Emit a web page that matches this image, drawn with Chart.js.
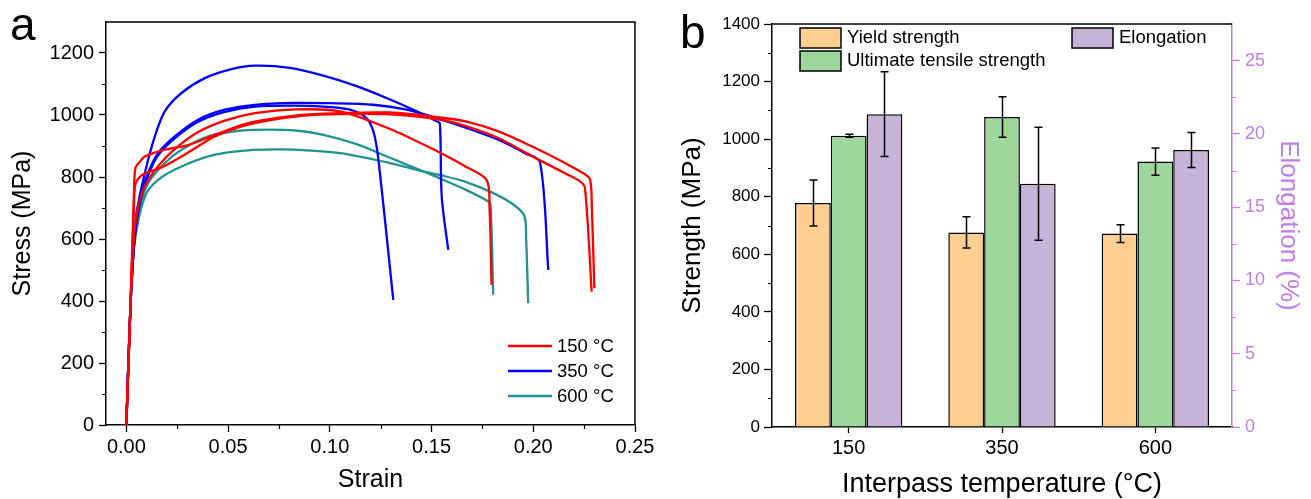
<!DOCTYPE html>
<html>
<head>
<meta charset="utf-8">
<script src="https://cdn.jsdelivr.net/npm/chart.js@4.4.1/dist/chart.umd.min.js"></script>
<style>
  html, body { margin: 0; padding: 0; background: #fff; }
  #wrap { position: relative; width: 1311px; height: 499px; overflow: hidden; }
  #cA { position: absolute; left: 0; top: 0; }
  #cB { position: absolute; left: 660px; top: 0; }
</style>
</head>
<body>
<div id="wrap">
  <canvas id="cA" width="660" height="499"></canvas>
  <canvas id="cB" width="651" height="499"></canvas>
</div>
<script>
// ---------------- Panel a: stress-strain curves ----------------
const strainTicks = [0, 0.05, 0.10, 0.15, 0.20, 0.25];
const stressTicks = [0, 200, 400, 600, 800, 1000, 1200];
const legendA = ['150 °C', '350 °C', '600 °C'];

// 150 °C
const red1Strain = [0, 0.002, 0.0035, 0.005, 0.0075, 0.0107, 0.0156, 0.0238, 0.0353, 0.0484, 0.0632, 0.0828, 0.105, 0.1296, 0.1491, 0.1664, 0.1771, 0.1785, 0.1795];
const red1Stress = [0, 380, 580, 680, 745, 790, 835, 890, 945, 982, 1006, 1018, 1012, 955, 895, 835, 790, 700, 452];
const red2Strain = [0, 0.002, 0.0038, 0.0045, 0.0075, 0.0107, 0.0189, 0.0271, 0.0353, 0.0435, 0.0599, 0.0828, 0.10, 0.1296, 0.154, 0.1664, 0.1828, 0.1992, 0.2156, 0.223, 0.2254, 0.2287];
const red2Stress = [0, 380, 720, 778, 805, 815, 836, 866, 899, 931, 969, 995, 1002, 1002, 985, 965, 926, 868, 812, 786, 765, 430];
const red3Strain = [0, 0.002, 0.0038, 0.0045, 0.007, 0.0091, 0.0189, 0.0304, 0.0435, 0.0599, 0.0828, 0.10, 0.1296, 0.154, 0.1664, 0.1828, 0.1992, 0.2156, 0.2246, 0.2279, 0.2288, 0.2300];
const red3Stress = [0, 380, 760, 830, 852, 866, 888, 903, 936, 974, 998, 1005, 1008, 992, 980, 947, 899, 845, 812, 792, 700, 441];
// 350 °C
const blue1Strain = [0, 0.002, 0.0035, 0.005, 0.0091, 0.014, 0.0189, 0.0271, 0.0386, 0.0517, 0.0632, 0.0804, 0.0968, 0.1132, 0.1296, 0.1427, 0.1525, 0.1541, 0.155, 0.1582];
const blue1Stress = [0, 380, 560, 683, 813, 931, 1012, 1071, 1119, 1148, 1159, 1152, 1127, 1093, 1050, 1012, 980, 972, 737, 565];
const blue2Strain = [0, 0.002, 0.004, 0.0066, 0.0107, 0.0156, 0.0238, 0.0353, 0.0484, 0.0632, 0.0828, 0.10, 0.1213, 0.1378, 0.154, 0.1664, 0.1828, 0.1959, 0.2033, 0.2074];
const blue2Stress = [0, 380, 600, 726, 813, 877, 931, 985, 1017, 1033, 1039, 1038, 1033, 1017, 987, 960, 920, 877, 848, 500];
const blue3Strain = [0, 0.002, 0.004, 0.0066, 0.0107, 0.0156, 0.0238, 0.0353, 0.0484, 0.0632, 0.0828, 0.0968, 0.1099, 0.118, 0.1215, 0.1238, 0.1312];
const blue3Stress = [0, 380, 595, 715, 805, 870, 925, 978, 1010, 1027, 1030, 1027, 1017, 990, 945, 860, 404];
// 600 °C
const teal1Strain = [0, 0.002, 0.004, 0.0066, 0.0107, 0.0189, 0.0271, 0.0402, 0.0566, 0.0704, 0.0828, 0.0968, 0.1132, 0.1296, 0.1459, 0.155, 0.1664, 0.1777, 0.179, 0.1803];
const teal1Stress = [0, 380, 590, 700, 780, 845, 888, 931, 950, 953, 950, 936, 906, 862, 818, 793, 760, 722, 712, 420];
const teal2Strain = [0, 0.002, 0.004, 0.0091, 0.0156, 0.0271, 0.0435, 0.0599, 0.0741, 0.0828, 0.105, 0.1296, 0.1459, 0.155, 0.1664, 0.1804, 0.19, 0.1956, 0.1965, 0.1975];
const teal2Stress = [0, 380, 585, 737, 791, 834, 872, 886, 889, 888, 877, 845, 818, 805, 785, 748, 712, 675, 600, 393];

// ---------------- Panel b: bar chart ----------------
const temperatures = ['150', '350', '600'];
const yieldStrength = [778, 676, 672];
const yieldErr = [80, 54, 31];
const tensileStrength = [1012, 1077, 922];
const tensileErr = [5, 70, 47];
const elongation = [21.35, 16.6, 18.9];
const elongationErr = [2.9, 3.85, 1.2];
const strengthTicks = [0, 200, 400, 600, 800, 1000, 1200, 1400];
const elongationTicks = [0, 5, 10, 15, 20, 25];
const legendB = ['Yield strength', 'Ultimate tensile strength', 'Elongation'];

const FONT = "'Liberation Sans', Arial, Helvetica, sans-serif";
const RED = '#ff0000', BLUE = '#0000ff', TEAL = '#21948e';
const ORANGE = '#ffcf91', GREEN = '#9ed79b', PURPLE = '#c6b3d8', AXIS_PURPLE = '#c07ee8';

function pts(xs, ys) { return xs.map((x, i) => ({ x: x, y: ys[i] })); }
function lineDs(xs, ys, color) {
  return { data: pts(xs, ys), borderColor: color, borderWidth: 2.3, pointRadius: 0, fill: false, tension: 0.3 };
}
const plain = v => String(v);

const framePluginA = {
  id: 'frameA',
  afterDraw(chart) {
    const { ctx, chartArea: a, scales } = chart;
    ctx.save();
    ctx.strokeStyle = '#000';
    ctx.lineWidth = 1.5;
    ctx.beginPath();
    ctx.moveTo(a.left, a.top); ctx.lineTo(a.right, a.top); ctx.lineTo(a.right, a.bottom);
    ctx.stroke();
    // minor ticks
    ctx.lineWidth = 1.2;
    ctx.beginPath();
    for (let v = 100; v < 1300; v += 200) {
      const y = Math.round(scales.y.getPixelForValue(v)) + 0.5;
      ctx.moveTo(a.left - 4, y); ctx.lineTo(a.left, y);
    }
    for (let v = 0.025; v < 0.25; v += 0.05) {
      const x = Math.round(scales.x.getPixelForValue(v)) + 0.5;
      ctx.moveTo(x, a.bottom); ctx.lineTo(x, a.bottom + 4);
    }
    ctx.stroke();
    // legend
    const colors = [RED, BLUE, TEAL];
    ctx.font = '18.5px ' + FONT;
    ctx.textBaseline = 'middle';
    ctx.fillStyle = '#000';
    const rows = [346, 371, 396];
    legendA.forEach((t, i) => {
      ctx.strokeStyle = colors[i];
      ctx.lineWidth = 2.6;
      ctx.beginPath(); ctx.moveTo(508, rows[i]); ctx.lineTo(552, rows[i]); ctx.stroke();
      ctx.fillText(t, 557, rows[i] + 1);
    });
    // panel letter
    ctx.font = '46px ' + FONT;
    ctx.textBaseline = 'alphabetic';
    ctx.fillText('a', 10, 40);
    ctx.restore();
  }
};

const tickFont = { family: FONT, size: 20 };
new Chart(document.getElementById('cA'), {
  type: 'line',
  data: {
    datasets: [
      lineDs(red1Strain, red1Stress, RED), lineDs(red2Strain, red2Stress, RED), lineDs(red3Strain, red3Stress, RED),
      lineDs(blue1Strain, blue1Stress, BLUE), lineDs(blue2Strain, blue2Stress, BLUE), lineDs(blue3Strain, blue3Stress, BLUE),
      lineDs(teal1Strain, teal1Stress, TEAL), lineDs(teal2Strain, teal2Stress, TEAL)
    ]
  },
  options: {
    responsive: false, animation: false, devicePixelRatio: 1,
    layout: { padding: { top: 22, right: 25, left: 0, bottom: 0 } },
    plugins: { legend: { display: false }, tooltip: { enabled: false } },
    scales: {
      x: {
        type: 'linear', min: -0.01, max: 0.25,
        afterBuildTicks: s => { s.ticks = strainTicks.map(v => ({ value: v })); },
        afterFit: s => { s.height = 74; },
        ticks: { callback: v => Number(v).toFixed(2), font: tickFont, color: '#000', padding: 3, maxRotation: 0 },
        grid: { drawOnChartArea: false, drawTicks: true, tickLength: 7, color: '#000', tickWidth: 1.3 },
        border: { display: true, color: '#000', width: 1.5 },
        title: { display: true, text: 'Strain', font: { family: FONT, size: 25, lineHeight: 1.2 }, color: '#000', padding: { top: 0, bottom: 4 } }
      },
      y: {
        type: 'linear', min: 0, max: 1300,
        afterBuildTicks: s => { s.ticks = stressTicks.map(v => ({ value: v })); },
        afterFit: s => { s.width = 106; },
        ticks: { callback: plain, font: tickFont, color: '#000', padding: 5 },
        grid: { drawOnChartArea: false, drawTicks: true, tickLength: 7, color: '#000', tickWidth: 1.3 },
        border: { display: true, color: '#000', width: 1.5 },
        title: { display: true, text: 'Stress (MPa)', font: { family: FONT, size: 25, lineHeight: 1.2 }, color: '#000', padding: { top: 8, bottom: 0 } }
      }
    }
  },
  plugins: [framePluginA]
});

// ---------------- Panel b ----------------
const errPlugin = {
  id: 'errB',
  afterDatasetsDraw(chart) {
    const { ctx } = chart;
    const errs = [yieldErr, tensileErr, elongationErr];
    ctx.save();
    ctx.strokeStyle = '#000';
    ctx.lineWidth = 1.5;
    chart.data.datasets.forEach((ds, i) => {
      const meta = chart.getDatasetMeta(i);
      const sc = chart.scales[meta.yAxisID];
      meta.data.forEach((bar, j) => {
        const v = ds.data[j], e = errs[i][j];
        const x = Math.round(bar.x) + 0.5;
        const yt = sc.getPixelForValue(v + e), yb = sc.getPixelForValue(v - e);
        ctx.beginPath();
        ctx.moveTo(x, yt); ctx.lineTo(x, yb);
        ctx.moveTo(x - 4, yt); ctx.lineTo(x + 4, yt);
        ctx.moveTo(x - 4, yb); ctx.lineTo(x + 4, yb);
        ctx.stroke();
      });
    });
    ctx.restore();
  },
  afterDraw(chart) {
    const { ctx, chartArea: a, scales } = chart;
    ctx.save();
    ctx.strokeStyle = '#000';
    ctx.lineWidth = 1.5;
    ctx.beginPath(); ctx.moveTo(a.left, a.top); ctx.lineTo(a.right, a.top); ctx.stroke();
    ctx.lineWidth = 1.2;
    ctx.beginPath();
    for (let v = 100; v < 1400; v += 200) {
      const y = Math.round(scales.y.getPixelForValue(v)) + 0.5;
      ctx.moveTo(a.left - 4, y); ctx.lineTo(a.left, y);
    }
    ctx.stroke();
    ctx.strokeStyle = AXIS_PURPLE;
    ctx.beginPath();
    for (let v = 2.5; v < 27.5; v += 5) {
      const y = Math.round(scales.y2.getPixelForValue(v)) + 0.5;
      ctx.moveTo(a.right, y); ctx.lineTo(a.right + 4, y);
    }
    ctx.stroke();
    // legend
    const fills = [ORANGE, GREEN, PURPLE];
    const boxes = [[140, 28], [140, 51], [412, 28]];
    ctx.font = '18.5px ' + FONT;
    ctx.textBaseline = 'middle';
    legendB.forEach((t, i) => {
      const [bx, by] = boxes[i];
      ctx.fillStyle = fills[i];
      ctx.fillRect(bx, by, 41, 20);
      ctx.strokeStyle = '#000';
      ctx.lineWidth = 1.5;
      ctx.strokeRect(bx, by, 41, 20);
      ctx.fillStyle = '#000';
      ctx.fillText(t, bx + 47, by + 10);
    });
    ctx.font = '46px ' + FONT;
    ctx.textBaseline = 'alphabetic';
    ctx.fillText('b', 20, 48);
    ctx.restore();
  }
};

new Chart(document.getElementById('cB'), {
  type: 'bar',
  data: {
    labels: temperatures,
    datasets: [
      { label: legendB[0], data: yieldStrength, backgroundColor: ORANGE, borderColor: '#000', borderWidth: 1.5, yAxisID: 'y' },
      { label: legendB[1], data: tensileStrength, backgroundColor: GREEN, borderColor: '#000', borderWidth: 1.5, yAxisID: 'y' },
      { label: legendB[2], data: elongation, backgroundColor: PURPLE, borderColor: '#000', borderWidth: 1.5, yAxisID: 'y2' }
    ]
  },
  options: {
    responsive: false, animation: false, devicePixelRatio: 1,
    datasets: { bar: { barPercentage: 1.0, categoryPercentage: 0.7 } },
    layout: { padding: { top: 24, right: 0, left: 0, bottom: 0 } },
    plugins: { legend: { display: false }, tooltip: { enabled: false } },
    scales: {
      x: {
        type: 'category', offset: true,
        afterFit: s => { s.height = 72; },
        ticks: { font: { family: FONT, size: 20 }, color: '#000', padding: 3, maxRotation: 0 },
        grid: { offset: false, drawOnChartArea: false, drawTicks: true, tickLength: 6, color: '#000', tickWidth: 1.3 },
        border: { display: true, color: '#000', width: 1.5 },
        title: { display: true, text: 'Interpass temperature (°C)', font: { family: FONT, size: 27, lineHeight: 1.0 }, color: '#000', padding: { top: 0, bottom: 1 } }
      },
      y: {
        type: 'linear', position: 'left', min: 0, max: 1400,
        afterBuildTicks: s => { s.ticks = strengthTicks.map(v => ({ value: v })); },
        afterFit: s => { s.width = 112; },
        ticks: { callback: plain, font: { family: FONT, size: 17 }, color: '#000', padding: 4 },
        grid: { drawOnChartArea: false, drawTicks: true, tickLength: 8, color: '#000', tickWidth: 1.3 },
        border: { display: true, color: '#000', width: 1.5 },
        title: { display: true, text: 'Strength (MPa)', font: { family: FONT, size: 26, lineHeight: 1.2 }, color: '#000', padding: { top: 17, bottom: 0 } }
      },
      y2: {
        type: 'linear', position: 'right', min: 0, max: 27.5,
        afterBuildTicks: s => { s.ticks = elongationTicks.map(v => ({ value: v })); },
        afterFit: s => { s.width = 79; },
        ticks: { callback: plain, font: { family: FONT, size: 18 }, color: AXIS_PURPLE, padding: 5 },
        grid: { drawOnChartArea: false, drawTicks: true, tickLength: 8, color: AXIS_PURPLE, tickWidth: 1.3 },
        border: { display: true, color: AXIS_PURPLE, width: 1.5 },
        title: { display: true, text: 'Elongation (%)', font: { family: FONT, size: 26, lineHeight: 1.2 }, color: AXIS_PURPLE, padding: { top: 7, bottom: 0 } }
      }
    }
  },
  plugins: [errPlugin]
});
</script>
</body>
</html>
